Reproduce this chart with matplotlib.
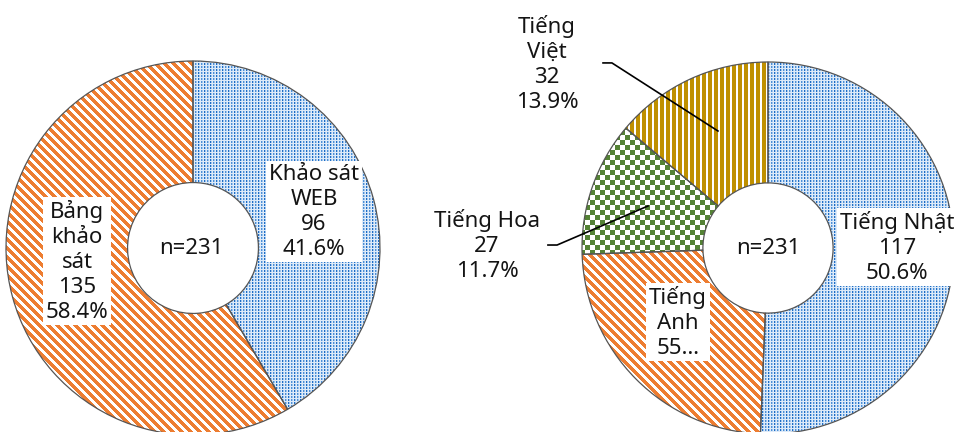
import numpy as np
import matplotlib
matplotlib.use("Agg")
import matplotlib.pyplot as plt
from matplotlib.lines import Line2D

# ---------------- data ----------------
total_n = 231
left_labels = ["Khảo sát\nWEB", "Bảng\nkhảo\nsát"]
left_values = [96, 135]
left_pcts = ["41.6%", "58.4%"]

right_labels = ["Tiếng Nhật", "Tiếng\nAnh", "Tiếng Hoa", "Tiếng\nViệt"]
right_values = [117, 55, 27, 32]
right_pcts = ["50.6%", "23.8%", "11.7%", "13.9%"]

# ---------------- layout / style ----------------
W, H, DPI = 957, 432, 100
plt.rcParams["font.family"] = ["Noto Sans", "DejaVu Sans"]
FS = 16
LS = 1.25
TXT = "#141414"
EDGE = "#555555"

yy, xx = np.mgrid[0:H, 0:W]


def hex2rgba(h):
    h = h.lstrip("#")
    return np.array([int(h[i:i + 2], 16) / 255 for i in (0, 2, 4)] + [1.0])


def make_img(mask_layers, bg):
    img = np.empty((H, W, 4))
    img[:] = hex2rgba(bg)
    for mask, col in mask_layers:
        img[mask] = hex2rgba(col)
    return img


def pat_blue():
    rows = (yy % 3 != 2)
    dark = rows & (xx % 3 == 0) & ((xx // 3) % 2 == 0)
    mid = rows & (xx % 3 == 0) & ((xx // 3) % 2 == 1)
    light = rows & (xx % 3 == 1)
    return make_img([(light, "#9EC4EC"), (mid, "#4C8FD6"), (dark, "#1E6CC4")], "#DDEAF8")


def pat_orange():
    m = ((xx - yy) % 9) < 5
    return make_img([(m, "#ED7D31")], "#FFFFFF")


def pat_green():
    m = ((xx // 5 + yy // 5) % 2) == 0
    return make_img([(m, "#548235")], "#FFFFFF")


def pat_gold():
    m = (xx % 6) < 4
    return make_img([(m, "#BF9000")], "#FFFFFF")


fig = plt.figure(figsize=(W / DPI, H / DPI), dpi=DPI)
LIM = 1.12


def donut_axes(cx, cy_top, R):
    cy = H - cy_top
    half = R * LIM
    ax = fig.add_axes([(cx - half) / W, (cy - half) / H, 2 * half / W, 2 * half / H])
    ax.set_zorder(2)
    return ax


def draw_donut(ax, values, patterns):
    wedges, _ = ax.pie(values, startangle=90, counterclock=False, radius=1.0,
                       wedgeprops=dict(width=0.65, facecolor="none",
                                       edgecolor=EDGE, linewidth=0.9))
    ax.set_xlim(-LIM, LIM)
    ax.set_ylim(-LIM, LIM)
    ax.axis("off")
    for w, pf in zip(wedges, patterns):
        im = fig.figimage(pf(), xo=0, yo=0, origin="upper", zorder=1)
        im.set_clip_path(w)
    return wedges


def label(ax, x, y, text, box=True):
    kw = dict(ha="center", va="center", fontsize=FS, color=TXT,
              linespacing=LS, multialignment="center")
    if box:
        kw["bbox"] = dict(boxstyle="square,pad=0.12", facecolor="white", edgecolor="none")
    ax.text(x, y, text, **kw)


def leader(ax, pts):
    xs, ys = zip(*pts)
    ax.add_line(Line2D(xs, ys, color="black", linewidth=1.2, clip_on=False))


# ---------- left donut ----------
axL = donut_axes(193, 248, 187)
draw_donut(axL, left_values, [pat_blue, pat_orange])
label(axL, -0.01, 0.0, f"n={total_n}", box=False)
left_pos = [(0.647, 0.195), (-0.62, -0.07)]
for (x, y), lab, v, p in zip(left_pos, left_labels, left_values, left_pcts):
    label(axL, x, y, f"{lab}\n{v}\n{p}")

# ---------- right donut ----------
axR = donut_axes(768, 248, 186)
draw_donut(axR, right_values, [pat_blue, pat_orange, pat_green, pat_gold])
label(axR, 0.0, 0.0, f"n={total_n}", box=False)

label(axR, 0.694, 0.005, f"{right_labels[0]}\n{right_values[0]}\n{right_pcts[0]}")
label(axR, -0.484, -0.398, f"{right_labels[1]}\n{right_values[1]}…")
label(axR, -1.511, 0.016, f"{right_labels[2]}\n{right_values[2]}\n{right_pcts[2]}", box=False)
label(axR, -1.188, 0.989, f"{right_labels[3]}\n{right_values[3]}\n{right_pcts[3]}", box=False)

leader(axR, [(-1.183, 0.016), (-1.134, 0.016), (-0.645, 0.226)])
leader(axR, [(-0.887, 0.995), (-0.839, 0.995), (-0.269, 0.629)])

fig.savefig("out.png", dpi=DPI)
